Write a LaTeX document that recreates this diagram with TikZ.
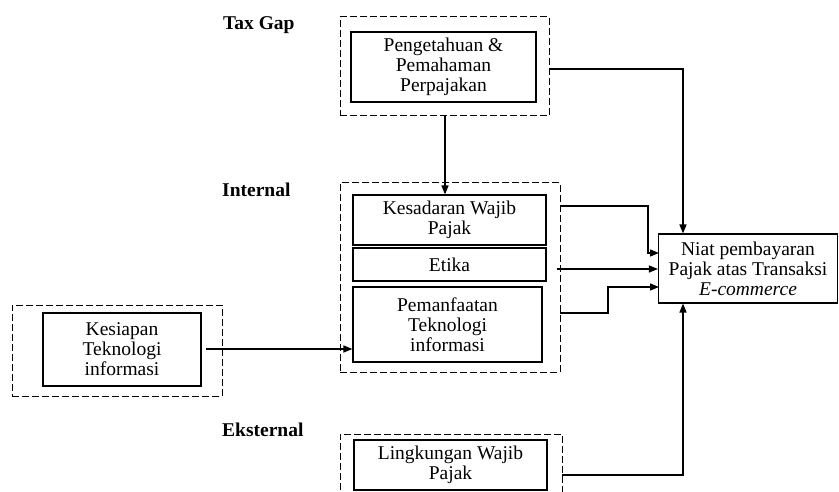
\documentclass[tikz,border=0pt]{standalone}
\usepackage{fontspec}
\setmainfont{Liberation Serif}
\usetikzlibrary{arrows.meta}
\begin{document}
\begin{tikzpicture}[x=1pt,y=-1pt,
  box/.style={draw,line width=1.1pt,align=center,inner sep=0pt,font=\fontsize{19.5}{20}\selectfont},
  grp/.style={draw,line width=1pt,dash pattern=on 7pt off 3pt,inner sep=0pt},
  lbl/.style={anchor=west,font=\fontsize{19.5}{20}\selectfont\bfseries,inner sep=0pt},
  arr/.style={line width=1.4pt,-{Triangle[length=9pt,width=7pt]}},
  ln/.style={line width=1.4pt}]
\useasboundingbox (0,0) rectangle (839,492);
% groups
\node[grp,minimum width=209pt,minimum height=99pt] (topdash) at (444.5,66.5) {};
\node[grp,minimum width=220pt,minimum height=189pt] (intdash) at (450,277.5) {};
\node[grp,minimum width=210pt,minimum height=91pt] (leftdash) at (117,350.5) {};
\draw[grp] (340,500) coordinate (ld1) -- (340,434) -- (562,434) coordinate (ld2) -- (562,500);
\coordinate (lingdash) at (562,475);
% boxes
\node[box,minimum width=185pt,minimum height=70pt] (peng) at (443.5,67) {Pengetahuan \&\\Pemahaman\\Perpajakan};
\node[box,minimum width=193pt,minimum height=50pt] (kes) at (449.5,220) {Kesadaran Wajib\\Pajak};
\node[box,minimum width=193pt,minimum height=33pt] (etika) at (449.5,264.5) {Etika};
\node[box,minimum width=189pt,minimum height=75pt] (pem) at (447.5,324.5) {Pemanfaatan\\Teknologi\\informasi};
\node[box,minimum width=179pt,minimum height=69pt] (niat) at (748,268.5) {Niat pembayaran\\Pajak atas Transaksi\\\textit{E-commerce}};
\node[box,minimum width=158pt,minimum height=73pt] (kesiap) at (122,349.5) {Kesiapan\\Teknologi\\informasi};
\node[box,minimum width=193pt,minimum height=50pt] (ling) at (450.5,465) {Lingkungan Wajib\\Pajak};
% labels
\node[lbl] (taxgap) at (223,25) {Tax Gap};
\node[lbl] (internal) at (222,190) {Internal};
\node[lbl] (eksternal) at (222,430) {Eksternal};
% connectors
\coordinate (a1) at (445,116.5);
\draw[arr] (a1) -- (a1 |- kes.north);
\coordinate (t1) at (549,69);
\coordinate (vx) at (683,0);
\draw[arr] (t1) -| (vx |- niat.north);
\coordinate (k1) at (560,206);
\coordinate (k2) at (648,206);
\coordinate (k3) at (659,253);
\draw[arr] (k1) -- (k2) |- (k3);
\coordinate (e1) at (557,269);
\draw[arr] (e1) -- (e1 -| niat.west);
\coordinate (p1) at (560,313);
\coordinate (p2) at (608,313);
\coordinate (p3) at (659,287);
\draw[arr] (p1) -- (p2) |- (p3);
\draw[arr] (lingdash) -| (vx |- niat.south);
\coordinate (s1) at (206,349);
\draw[arr] (s1) -- (s1 -| pem.west);
\end{tikzpicture}
\end{document}
